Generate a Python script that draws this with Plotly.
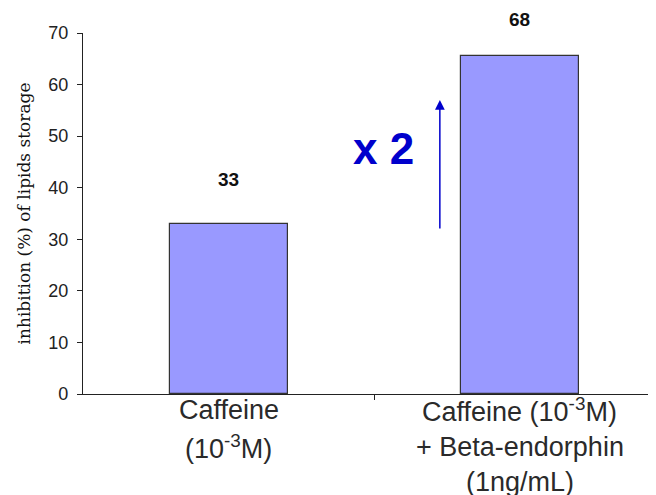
import plotly.graph_objects as go

categories = ["Caffeine (10-3M)", "Caffeine (10-3M) + Beta-endorphin (1ng/mL)"]
positions = [0, 1]
values = [33, 65.6]
value_labels = ["33", "68"]
y_ticks = [0, 10, 20, 30, 40, 50, 60, 70]

cat_lines = [
    ["Caffeine", "(10<sup>-3</sup>M)"],
    ["Caffeine (10<sup>-3</sup>M)", "+ Beta-endorphin", "(1ng/mL)"],
]
line_shifts = [-16, -53, -88]
label_shifts = [32, 24]

fig = go.Figure()
fig.add_trace(go.Bar(
    x=positions, y=values, width=0.405,
    marker=dict(color="#9999FF", line=dict(color="#333333", width=1.2)),
    hoverinfo="skip",
))

annotations = []
for xv, yv, lab, sh in zip(positions, values, value_labels, label_shifts):
    annotations.append(dict(x=xv, y=yv, xref="x", yref="y", text="<b>" + lab + "</b>",
                            showarrow=False, yanchor="bottom", yshift=sh,
                            font=dict(family="Liberation Sans, Arial", size=19, color="#111111")))
for xv, lines in zip(positions, cat_lines):
    for i, ln in enumerate(lines):
        annotations.append(dict(x=xv, y=0, xref="x", yref="y", text=ln, showarrow=False,
                                yanchor="middle", yshift=line_shifts[i],
                                font=dict(family="Liberation Sans, Arial", size=27, color="#2a2a2a")))
annotations.append(dict(x=0.725, y=57, ax=0.725, ay=31.8, xref="x", yref="y", axref="x", ayref="y",
                        text="", showarrow=True, arrowhead=2, arrowsize=1.3, arrowwidth=1.5,
                        arrowcolor="#0000CC"))
annotations.append(dict(x=0.533, y=47.7, xref="x", yref="y", text="<b>x 2</b>", showarrow=False,
                        font=dict(family="Liberation Sans, Arial", size=44, color="#0000CC")))

fig.update_layout(
    width=648, height=487,
    margin=dict(l=75, r=0, t=25, b=101),
    paper_bgcolor="white", plot_bgcolor="white",
    showlegend=False,
    bargap=0,
    annotations=annotations,
    xaxis=dict(range=[-0.5, 1.467], showgrid=False, zeroline=False, showline=True,
               linecolor="#222222", linewidth=1.2, tickvals=[0.5], ticktext=[""],
               ticks="outside", ticklen=5, tickcolor="#222222", fixedrange=True),
    yaxis=dict(range=[0, 70], tickvals=y_ticks, showgrid=False, zeroline=False, showline=True,
               linecolor="#222222", linewidth=1.2, ticks="outside", ticklen=5, tickcolor="#222222",
               ticklabelstandoff=5,
               tickfont=dict(family="Liberation Sans, Arial", size=18, color="#222222"),
               title=dict(text="inhibition (%) of lipids storage", standoff=13,
                          font=dict(family="DejaVu Serif", size=17, color="#111111")),
               fixedrange=True),
)

fig.write_html("out.html")
